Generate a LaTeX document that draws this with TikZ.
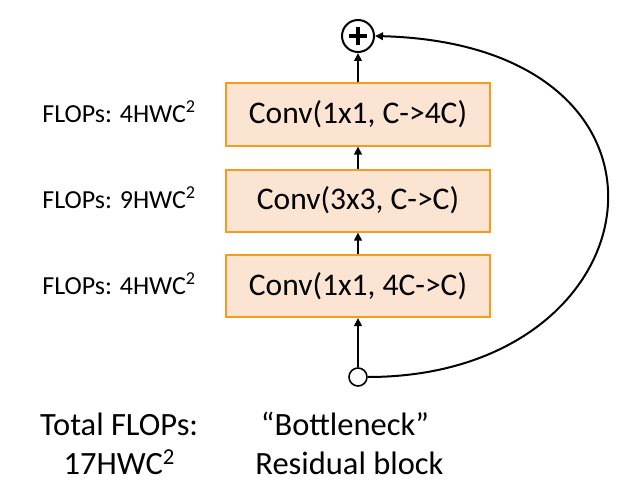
\documentclass[tikz,border=0pt]{standalone}
\usepackage{fontspec}
\setmainfont{Carlito}
\usetikzlibrary{arrows.meta}
\definecolor{boxfill}{RGB}{251,228,210}
\definecolor{boxline}{RGB}{247,155,30}
\begin{document}
\begin{tikzpicture}[x=1pt,y=-1pt,
  convbox/.style={draw=boxline,fill=boxfill,line width=2pt,minimum width=264pt,minimum height=62pt,inner sep=0pt,font=\fontsize{31.5}{36}\selectfont},
  flops/.style={anchor=base,inner sep=0pt,font=\fontsize{26}{30}\selectfont},
  caption/.style={anchor=base,inner sep=0pt,font=\fontsize{32.5}{38}\selectfont},
  flow/.style={line width=2.3pt,-{Triangle[length=8pt,width=7.5pt]}}]
\useasboundingbox (0,0) rectangle (626,492);

% three stacked convolutions
\node[convbox] (c3) at (358,286) {Conv(1x1, 4C->C)};
\node[convbox] (c2) at (358,200.5) {Conv(3x3, C->C)};
\node[convbox] (c1) at (358,114.5) {Conv(1x1, C->4C)};

% input point and summation
\node[circle,draw,line width=1.6pt,fill=white,minimum size=18pt,inner sep=0pt] (in) at (358,377) {};
\node[circle,draw,line width=2pt,minimum size=32pt,inner sep=0pt] (sum) at (358,36) {};
\draw[line width=4.5pt] (sum.center) ++(-9,0) -- ++(18,0);
\draw[line width=4.5pt] (sum.center) ++(0,-9) -- ++(0,18);

% main path
\draw[flow] (in) -- (c3);
\draw[flow] (c3) -- (c2);
\draw[flow] (c2) -- (c1);
\draw[flow] (c1) -- (sum);

% shortcut connection
\draw[flow,line width=2pt] (in.east) .. controls (660,377) and (710,45) .. (sum.east);

% per-layer cost
\node[flops] (f1) at (119,122) {FLOPs: 4HWC\textsuperscript{2}};
\node[flops] (f2) at (119,208) {FLOPs: 9HWC\textsuperscript{2}};
\node[flops] (f3) at (119,294) {FLOPs: 4HWC\textsuperscript{2}};

% captions
\node[caption] (t1) at (119.2,435.7) {Total FLOPs:};
\node[caption] (t2) at (119.3,474) {17HWC\textsuperscript{2}};
\node[caption] (b1) at (345,435.7) {“Bottleneck”};
\node[caption] (b2) at (349.5,474) {Residual block};
\end{tikzpicture}
\end{document}
